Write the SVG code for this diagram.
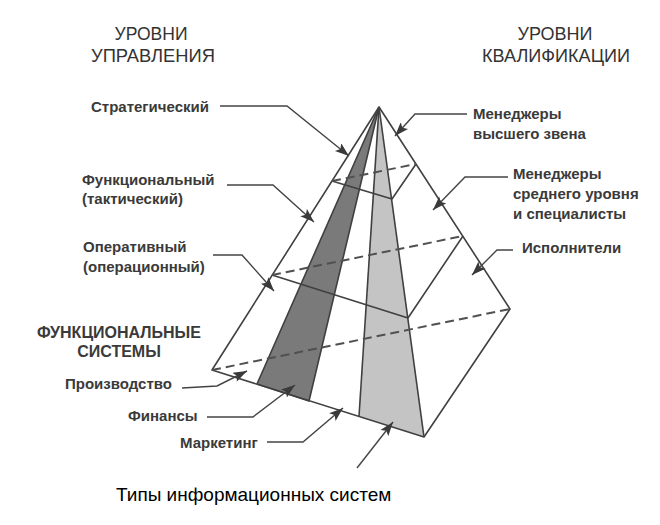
<svg xmlns="http://www.w3.org/2000/svg" width="660" height="525" viewBox="0 0 660 525">
<defs>
<style>
.lbl{font-family:"Liberation Sans",Arial,sans-serif;font-size:15px;font-weight:bold;fill:#3a3a3a}
.hdr{font-family:"Liberation Sans",Arial,sans-serif;font-size:19px;fill:#333}
.fs{font-family:"Liberation Sans",Arial,sans-serif;font-size:16px;font-weight:bold;fill:#3a3a3a}
.cap{font-family:"Liberation Sans",Arial,sans-serif;font-size:19px;fill:#000}
.edge{stroke:#404040;stroke-width:1.6;fill:none;stroke-linejoin:round}
.dash{stroke:#505050;stroke-width:2;fill:none;stroke-dasharray:9 5}
.lead{stroke:#444;stroke-width:1.4;fill:none;marker-end:url(#ah)}
</style>
<marker id="ah" viewBox="0 0 14 10" refX="14" refY="5" markerWidth="15" markerHeight="10" markerUnits="userSpaceOnUse" orient="auto">
<path d="M0,0 L14,5 L0,10 L3,5 z" fill="#3a3a3a"/>
</marker>
</defs>
<rect width="660" height="525" fill="#fff"/>

<g id="pyramid">
<polygon points="379,107 257,384 309,401" fill="#7a7a7a"/>
<polygon points="379,107 359,416.5 424,437" fill="#c4c4c4"/>
<polygon points="379,107 257,384 309,401" class="edge"/>
<line x1="379" y1="107" x2="359" y2="416.5" class="edge"/>
<polyline points="379,107 212,370 424,437 510,309 379,107" class="edge"/>
<line x1="379" y1="107" x2="424" y2="437" class="edge"/>
<polyline points="332,181 392,199 416,164" class="edge"/>
<polyline points="272,275 408,318 463,236" class="edge"/>
<line x1="332" y1="181" x2="416" y2="164" class="dash"/>
<line x1="272" y1="275" x2="463" y2="236" class="dash"/>
<line x1="212" y1="370" x2="510" y2="309" class="dash"/>
</g>

<g id="connectors">
<polyline points="220,106 287,106 349,156" class="lead"/>
<polyline points="227,185 273,185 314,222" class="lead"/>
<polyline points="213,255 242,255 274,291" class="lead"/>
<polyline points="182,388 217,386 247,371" class="lead"/>
<polyline points="207,417 253,417 295,385" class="lead"/>
<polyline points="267,442 303,442 343,408" class="lead"/>
<polyline points="357,468 393,422" class="lead"/>
<polyline points="467,114 415,114 395,136" class="lead"/>
<polyline points="508,177 465,177 433,210" class="lead"/>
<polyline points="513,250 497,250 472,275" class="lead"/>
</g>

<g id="hdr-upr">
<text class="hdr" x="151" y="40" text-anchor="middle" textLength="73" lengthAdjust="spacingAndGlyphs">УРОВНИ</text>
<text class="hdr" x="153" y="62" text-anchor="middle" textLength="124" lengthAdjust="spacingAndGlyphs">УПРАВЛЕНИЯ</text>
</g>
<g id="hdr-kval">
<text class="hdr" x="555" y="40" text-anchor="middle" textLength="75" lengthAdjust="spacingAndGlyphs">УРОВНИ</text>
<text class="hdr" x="556" y="62" text-anchor="middle" textLength="148" lengthAdjust="spacingAndGlyphs">КВАЛИФИКАЦИИ</text>
</g>
<g id="lvl-strat"><text class="lbl" x="91" y="112">Стратегический</text></g>
<g id="lvl-func">
<text class="lbl" x="82" y="185">Функциональный</text>
<text class="lbl" x="82" y="204">(тактический)</text>
</g>
<g id="lvl-oper">
<text class="lbl" x="83" y="252">Оперативный</text>
<text class="lbl" x="83" y="272">(операционный)</text>
</g>
<g id="hdr-fs">
<text class="fs" x="119" y="338" text-anchor="middle">ФУНКЦИОНАЛЬНЫЕ</text>
<text class="fs" x="119" y="357" text-anchor="middle">СИСТЕМЫ</text>
</g>
<g id="fs-prod"><text class="lbl" x="65" y="389">Производство</text></g>
<g id="fs-fin"><text class="lbl" x="128" y="421">Финансы</text></g>
<g id="fs-mark"><text class="lbl" x="180" y="448">Маркетинг</text></g>
<g id="q-top">
<text class="lbl" x="473" y="119">Менеджеры</text>
<text class="lbl" x="473" y="139">высшего звена</text>
</g>
<g id="q-mid">
<text class="lbl" x="513" y="179">Менеджеры</text>
<text class="lbl" x="513" y="199">среднего уровня</text>
<text class="lbl" x="513" y="219">и специалисты</text>
</g>
<g id="q-exec"><text class="lbl" x="522" y="253">Исполнители</text></g>
<g id="caption"><text class="cap" x="116" y="501">Типы информационных систем</text></g>
</svg>
